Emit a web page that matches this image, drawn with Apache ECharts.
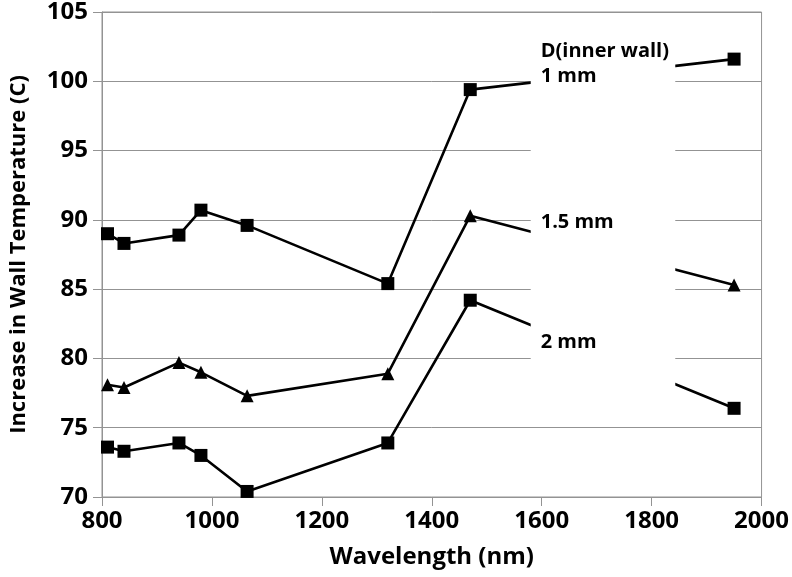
<!DOCTYPE html>
<html>
<head>
<meta charset="utf-8">
<script src="https://cdn.jsdelivr.net/npm/echarts@6/dist/echarts.min.js"></script>
<style>
html,body{margin:0;padding:0;background:#fff;}
#c{width:792px;height:577px;}
</style>
</head>
<body>
<div id="c"></div>
<script>
const wavelengths = [810, 840, 940, 980, 1064, 1320, 1470, 1950];
const temp1mm  = [89.0, 88.3, 88.9, 90.7, 89.6, 85.4, 99.4, 101.6];
const temp15mm = [78.1, 77.9, 79.7, 79.0, 77.3, 78.9, 90.3, 85.3];
const temp2mm  = [73.6, 73.3, 73.9, 73.0, 70.4, 73.9, 84.2, 76.4];
const xTicks = [800, 1000, 1200, 1400, 1600, 1800, 2000];
const yTicks = [70, 75, 80, 85, 90, 95, 100, 105];
const labelTexts = ['D(inner wall)', '1 mm', '1.5 mm', '2 mm'];

const FONT = '"Open Sans", sans-serif';
const chart = echarts.init(document.getElementById('c'), null, {renderer: 'canvas'});

function pairs(ys) { return wavelengths.map((x, i) => [x, ys[i]]); }

const lineStyle = {color: '#000', width: 2.6};
function mkSeries(name, ys, symbol, size) {
  return {
    name: name, type: 'line', data: pairs(ys),
    symbol: symbol, symbolSize: size,
    itemStyle: {color: '#000'},
    lineStyle: lineStyle,
    animation: false, z: 2
  };
}

chart.setOption({
  animation: false,
  grid: {left: 97, right: 29, top: 10, bottom: 80, show: true, borderColor: '#939393', borderWidth: 1},
  xAxis: {
    type: 'value', min: 800, max: 2000, interval: 200,
    name: 'Wavelength (nm)', nameLocation: 'middle', nameGap: 48,
    nameTextStyle: {fontFamily: FONT, fontWeight: 'bold', fontSize: 24, color: '#000'},
    axisLine: {show: true, lineStyle: {color: '#939393', width: 1}},
    axisTick: {show: true, length: 9, lineStyle: {color: '#939393'}},
    axisLabel: {fontFamily: FONT, fontWeight: 'bold', fontSize: 24, color: '#000', margin: 12,
      formatter: v => xTicks.includes(v) ? String(v) : ''},
    splitLine: {show: false}
  },
  yAxis: {
    type: 'value', min: 70, max: 105, interval: 5,
    name: 'Increase in Wall Temperature (C)', nameLocation: 'middle', nameGap: 72,
    nameTextStyle: {fontFamily: FONT, fontWeight: 'bold', fontSize: 22, color: '#000'},
    axisLine: {show: true, lineStyle: {color: '#939393', width: 1}},
    axisTick: {show: true, length: 9, lineStyle: {color: '#939393'}},
    axisLabel: {fontFamily: FONT, fontWeight: 'bold', fontSize: 24, color: '#000', margin: 14,
      formatter: v => yTicks.includes(v) ? String(v) : ''},
    splitLine: {show: true, lineStyle: {color: '#939393', width: 1}}
  },
  series: [
    mkSeries('1 mm', temp1mm, 'rect', 13),
    mkSeries('1.5 mm', temp15mm, 'triangle', 13),
    mkSeries('2 mm', temp2mm, 'rect', 13)
  ]
});

// White label box (data-label area) drawn over the lines, as in the original
const boxX = [1580, 1843];
const boxY = [103.2, 77.7];
const p1 = chart.convertToPixel({gridIndex: 0}, [boxX[0], boxY[0]]);
const p2 = chart.convertToPixel({gridIndex: 0}, [boxX[1], boxY[1]]);
const textLeft = p1[0] + 10;
const labelYs = [51, 76, 222, 342];

const graphics = [{
  type: 'rect', z: 100,
  shape: {x: p1[0], y: p1[1], width: p2[0] - p1[0], height: p2[1] - p1[1]},
  style: {fill: '#fff'}
}];
labelTexts.forEach((t, i) => {
  graphics.push({
    type: 'text', z: 101, x: textLeft, y: labelYs[i],
    style: {text: t, fill: '#000', font: 'bold 20px ' + FONT, textAlign: 'left', textVerticalAlign: 'middle'}
  });
});
chart.setOption({graphic: graphics});
</script>
</body>
</html>
